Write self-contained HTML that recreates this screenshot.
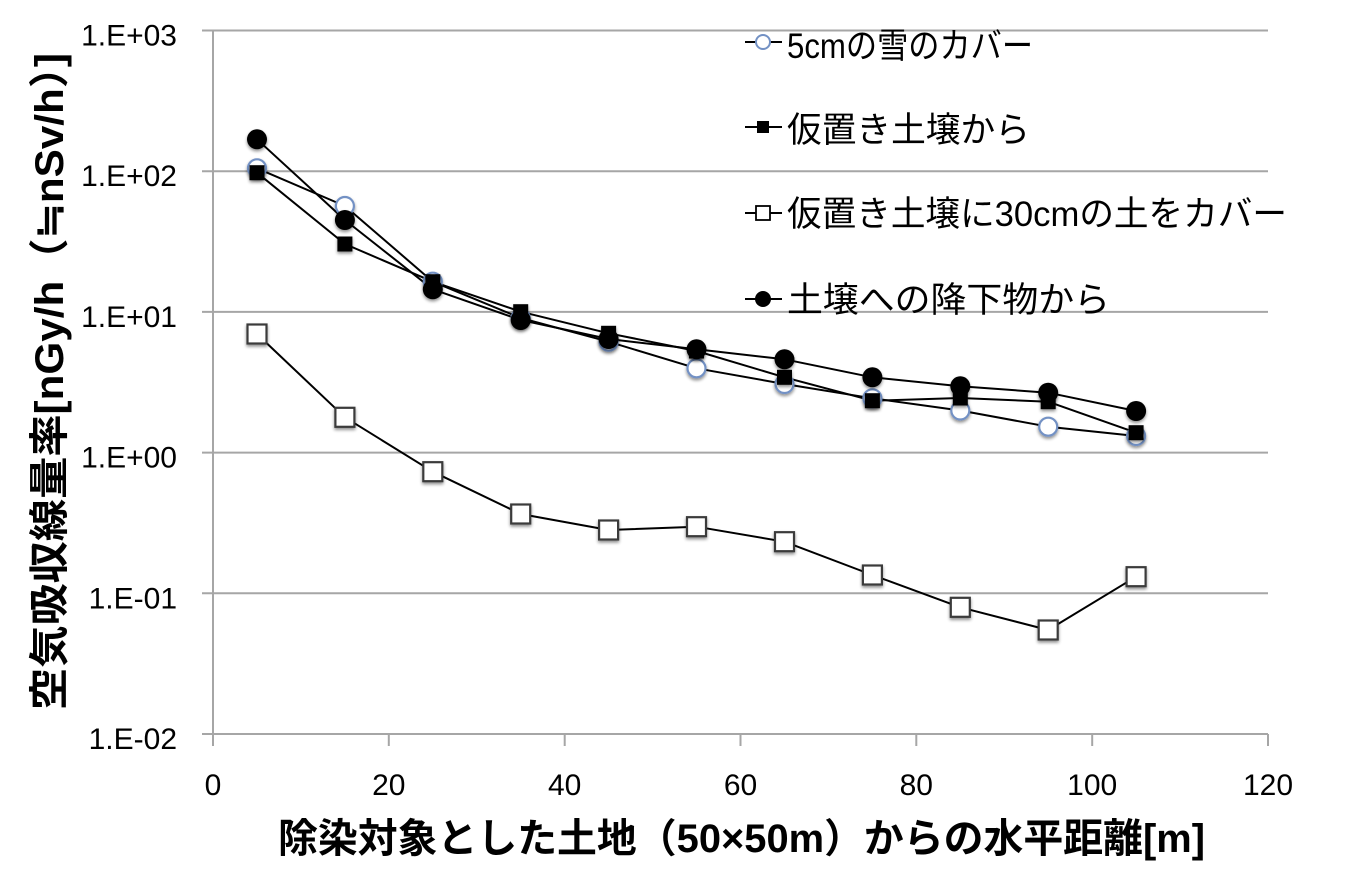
<!DOCTYPE html>
<html><head><meta charset="utf-8"><style>
html,body{margin:0;padding:0;background:#fff;}
svg{display:block;}
</style></head><body>
<svg width="1350" height="883" viewBox="0 0 1350 883" xmlns="http://www.w3.org/2000/svg">
<defs>
<filter id="sh" x="-50%" y="-50%" width="200%" height="200%">
<feGaussianBlur in="SourceAlpha" stdDeviation="1.5"/>
<feOffset dx="0" dy="2" result="b"/>
<feComponentTransfer><feFuncA type="linear" slope="0.45"/></feComponentTransfer>
<feMerge><feMergeNode/><feMergeNode in="SourceGraphic"/></feMerge>
</filter>
</defs>
<rect width="1350" height="883" fill="#fff"/>
<!-- gridlines -->
<g stroke="#a6a6a6" stroke-width="2" fill="none">
<line x1="202" y1="30.5" x2="1268" y2="30.5"/>
<line x1="202" y1="171.2" x2="1268" y2="171.2"/>
<line x1="202" y1="311.9" x2="1268" y2="311.9"/>
<line x1="202" y1="452.6" x2="1268" y2="452.6"/>
<line x1="202" y1="593.3" x2="1268" y2="593.3"/>
<line x1="202" y1="734" x2="1268" y2="734"/>
<line x1="213" y1="30.5" x2="213" y2="746"/>
<line x1="388.8" y1="734" x2="388.8" y2="746"/>
<line x1="564.7" y1="734" x2="564.7" y2="746"/>
<line x1="740.5" y1="734" x2="740.5" y2="746"/>
<line x1="916.3" y1="734" x2="916.3" y2="746"/>
<line x1="1092.2" y1="734" x2="1092.2" y2="746"/>
<line x1="1268" y1="734" x2="1268" y2="746"/>
</g>
<!-- y tick labels -->
<g font-family="'Liberation Sans', sans-serif" font-size="30" fill="#000" text-anchor="end">
<text x="177" y="45.5">1.E+03</text>
<text x="177" y="186.2">1.E+02</text>
<text x="177" y="326.9">1.E+01</text>
<text x="177" y="467.6">1.E+00</text>
<text x="177" y="608.3">1.E-01</text>
<text x="177" y="749">1.E-02</text>
</g>
<!-- x tick labels -->
<g font-family="'Liberation Sans', sans-serif" font-size="30" fill="#000" text-anchor="middle">
<text x="213" y="795">0</text>
<text x="388.8" y="795">20</text>
<text x="564.7" y="795">40</text>
<text x="740.5" y="795">60</text>
<text x="916.3" y="795">80</text>
<text x="1092.2" y="795">100</text>
<text x="1268" y="795">120</text>
</g>
<!-- axis titles -->
<text x="278" y="852" font-family="'Liberation Sans', 'Noto Sans CJK JP', sans-serif" font-size="40" font-weight="bold" fill="#000" textLength="927" lengthAdjust="spacingAndGlyphs">除染対象とした土地（50×50m）からの水平距離[m]</text>
<text transform="translate(63,710) rotate(-90)" x="0" y="0" font-family="'Liberation Sans', 'Noto Sans CJK JP', sans-serif" font-size="40" font-weight="bold" fill="#000" textLength="657" lengthAdjust="spacingAndGlyphs">空気吸収線量率[nGy/h（≒nSv/h）]</text>

<!-- series lines -->
<g fill="none" stroke="#000" stroke-width="2" stroke-linejoin="round">
<polyline points="257,168.3 344.9,206 432.8,281.7 520.7,318 608.6,341.7 696.5,368.3 784.5,384 872.4,398.3 960.3,410.5 1048.2,426.7 1136.1,436"/>
<polyline points="257,172.7 344.9,244 432.8,281.7 520.7,311.7 608.6,333.3 696.5,351 784.5,377.3 872.4,400.7 960.3,398 1048.2,401.7 1136.1,432.7"/>
<polyline points="257,334 344.9,417.3 432.8,471.7 520.7,514 608.6,530 696.5,526.7 784.5,541.7 872.4,575 960.3,607.3 1048.2,630 1136.1,576.7"/>
<polyline points="257,139.3 344.9,220 432.8,289.3 520.7,320 608.6,339 696.5,349.3 784.5,359.3 872.4,377.3 960.3,386.3 1048.2,392.7 1136.1,411"/>
</g>
<!-- open circles (snow) -->
<g fill="#fff" stroke="#7391c4" stroke-width="2.2" filter="url(#sh)">
<circle cx="257" cy="168.3" r="9"/>
<circle cx="344.9" cy="206" r="9"/>
<circle cx="432.8" cy="281.7" r="9"/>
<circle cx="520.7" cy="318" r="9"/>
<circle cx="608.6" cy="341.7" r="9"/>
<circle cx="696.5" cy="368.3" r="9"/>
<circle cx="784.5" cy="384" r="9"/>
<circle cx="872.4" cy="398.3" r="9"/>
<circle cx="960.3" cy="410.5" r="9"/>
<circle cx="1048.2" cy="426.7" r="9"/>
<circle cx="1136.1" cy="436" r="9"/>
</g>
<!-- filled squares -->
<g fill="#000" filter="url(#sh)">
<rect x="249.5" y="165.2" width="15" height="15"/>
<rect x="337.4" y="236.5" width="15" height="15"/>
<rect x="425.3" y="274.2" width="15" height="15"/>
<rect x="513.2" y="304.2" width="15" height="15"/>
<rect x="601.1" y="325.8" width="15" height="15"/>
<rect x="689" y="343.5" width="15" height="15"/>
<rect x="777" y="369.8" width="15" height="15"/>
<rect x="864.9" y="393.2" width="15" height="15"/>
<rect x="952.8" y="390.5" width="15" height="15"/>
<rect x="1040.7" y="394.2" width="15" height="15"/>
<rect x="1128.6" y="425.2" width="15" height="15"/>
</g>
<!-- open squares -->
<g fill="#fff" stroke="#3a3a3a" stroke-width="2.2" filter="url(#sh)">
<rect x="247.5" y="324.5" width="19" height="19"/>
<rect x="335.4" y="407.8" width="19" height="19"/>
<rect x="423.3" y="462.2" width="19" height="19"/>
<rect x="511.2" y="504.5" width="19" height="19"/>
<rect x="599.1" y="520.5" width="19" height="19"/>
<rect x="687" y="517.2" width="19" height="19"/>
<rect x="775" y="532.2" width="19" height="19"/>
<rect x="862.9" y="565.5" width="19" height="19"/>
<rect x="950.8" y="597.8" width="19" height="19"/>
<rect x="1038.7" y="620.5" width="19" height="19"/>
<rect x="1126.6" y="567.2" width="19" height="19"/>
</g>
<!-- filled circles -->
<g fill="#000" filter="url(#sh)">
<circle cx="257" cy="139.3" r="10"/>
<circle cx="344.9" cy="220" r="10"/>
<circle cx="432.8" cy="289.3" r="10"/>
<circle cx="520.7" cy="320" r="10"/>
<circle cx="608.6" cy="339" r="10"/>
<circle cx="696.5" cy="349.3" r="10"/>
<circle cx="784.5" cy="359.3" r="10"/>
<circle cx="872.4" cy="377.3" r="10"/>
<circle cx="960.3" cy="386.3" r="10"/>
<circle cx="1048.2" cy="392.7" r="10"/>
<circle cx="1136.1" cy="411" r="10"/>
</g>

<!-- legend -->
<g stroke="#000" stroke-width="2">
<line x1="745" y1="42" x2="782" y2="42"/>
<line x1="745" y1="127" x2="782" y2="127"/>
<line x1="745" y1="213" x2="782" y2="213"/>
<line x1="745" y1="299" x2="782" y2="299"/>
</g>
<circle cx="763" cy="42" r="7" fill="#fff" stroke="#7391c4" stroke-width="2"/>
<rect x="757" y="121" width="12" height="12" fill="#000"/>
<rect x="756" y="206" width="14" height="14" fill="#fff" stroke="#000" stroke-width="1.8"/>
<circle cx="763" cy="299" r="8" fill="#000"/>
<g font-family="'Liberation Sans', 'Noto Sans CJK JP', sans-serif" font-size="35" fill="#000">
<text x="787" y="58" textLength="246" lengthAdjust="spacingAndGlyphs">5cmの雪のカバー</text>
<text x="787" y="142" textLength="243" lengthAdjust="spacingAndGlyphs">仮置き土壌から</text>
<text x="787" y="226" textLength="500" lengthAdjust="spacingAndGlyphs">仮置き土壌に30cmの土をカバー</text>
<text x="787" y="312" textLength="323" lengthAdjust="spacingAndGlyphs">土壌への降下物から</text>
</g>
</svg>
</body></html>
